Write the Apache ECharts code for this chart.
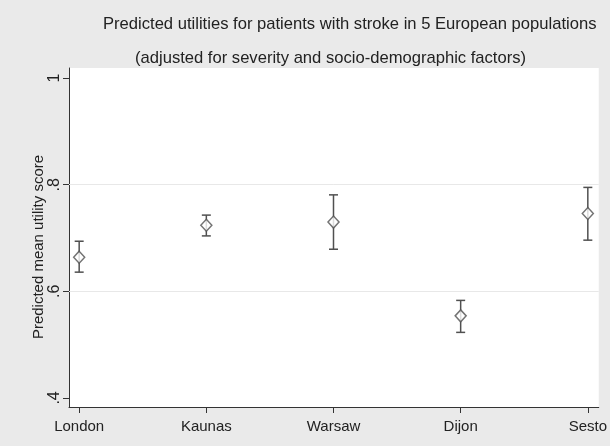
<!DOCTYPE html>
<html>
<head>
<meta charset="utf-8">
<script src="https://cdn.jsdelivr.net/npm/echarts@6/dist/echarts.min.js"></script>
<style>
  html, body { margin: 0; padding: 0; background: #eaeaea; }
  #chart { width: 610px; height: 446px; }
</style>
</head>
<body>
<div id="chart"></div>
<script>
// Study populations along the x axis
var cities = ['London', 'Kaunas', 'Warsaw', 'Dijon', 'Sesto'];
// Predicted mean utility with 95% confidence limits
var predicted = [0.664, 0.724, 0.730, 0.554, 0.746];
var lower = [0.636, 0.704, 0.679, 0.523, 0.696];
var upper = [0.694, 0.743, 0.781, 0.583, 0.795];
// Y-axis ticks and the lines drawn across the plot
var yTicks = [0.4, 0.6, 0.8, 1];
var gridValues = [0.6, 0.8];

var positions = cities.map(function (c, i) { return i + 1; });
var pointData = predicted.map(function (v, i) { return [positions[i], v]; });
var barData = predicted.map(function (v, i) { return [positions[i], lower[i], upper[i]]; });

var FONT = '"Liberation Sans", Arial, Helvetica, sans-serif';
var INK = '#222';
var MARK = '#505050';

function fmtTick(v) {
  var s = String(Math.round(v * 10) / 10);
  return s.replace(/^0\./, '.');
}

var chart = echarts.init(document.getElementById('chart'), null, { renderer: 'canvas' });

chart.setOption({
  backgroundColor: '#eaeaea',
  animation: false,
  graphic: [
    {
      type: 'text', left: 103, top: 16,
      style: {
        text: 'Predicted utilities for patients with stroke in 5 European populations',
        font: '16.6px ' + FONT, fill: INK
      }
    },
    {
      type: 'text', left: 135, top: 50,
      style: {
        text: '(adjusted for severity and socio-demographic factors)',
        font: '16.6px ' + FONT, fill: INK
      }
    },
    {
      // y-axis title, rotated to read upwards
      type: 'text', x: 39, y: 247, rotation: Math.PI / 2,
      style: {
        text: 'Predicted mean utility score',
        font: '15px ' + FONT, fill: INK,
        align: 'center', verticalAlign: 'middle'
      }
    }
  ],
  grid: {
    left: 69, right: 10, top: 68, bottom: 39,
    show: true, backgroundColor: '#ffffff', borderWidth: 0
  },
  xAxis: {
    type: 'value',
    min: 0.92, max: 5.086,
    axisLine: { show: true, onZero: false, lineStyle: { color: '#333', width: 1 } },
    axisTick: { show: true, length: 6, customValues: positions, lineStyle: { color: '#333' } },
    axisLabel: {
      customValues: positions,
      margin: 12,
      fontFamily: FONT, fontSize: 15, color: INK,
      formatter: function (v) { return cities[Math.round(v) - 1]; }
    },
    splitLine: { show: false }
  },
  yAxis: {
    type: 'value',
    min: 0.383, max: 1.019,
    axisLine: { show: true, onZero: false, lineStyle: { color: '#333', width: 1 } },
    axisTick: { show: true, length: 6, customValues: yTicks, lineStyle: { color: '#333' } },
    axisLabel: {
      customValues: yTicks,
      rotate: 90,
      margin: 6,
      fontFamily: FONT, fontSize: 16, color: INK,
      formatter: fmtTick
    },
    splitLine: { show: false }
  },
  series: [
    {
      // horizontal guide lines at the inner ticks
      type: 'line',
      data: [],
      silent: true,
      markLine: {
        silent: true,
        symbol: 'none',
        label: { show: false },
        lineStyle: { color: '#e8e8e8', width: 1, type: 'solid' },
        data: gridValues.map(function (v) { return { yAxis: v }; })
      }
    },
    {
      // confidence interval whiskers with caps
      type: 'custom',
      data: barData,
      z: 3,
      renderItem: function (params, api) {
        var x = api.value(0);
        var lo = api.coord([x, api.value(1)]);
        var hi = api.coord([x, api.value(2)]);
        var half = 4.5;
        var style = { stroke: MARK, lineWidth: 1.5 };
        return {
          type: 'group',
          children: [
            { type: 'line', shape: { x1: lo[0], y1: lo[1], x2: hi[0], y2: hi[1] }, style: style },
            { type: 'line', shape: { x1: hi[0] - half, y1: hi[1], x2: hi[0] + half, y2: hi[1] }, style: style },
            { type: 'line', shape: { x1: lo[0] - half, y1: lo[1], x2: lo[0] + half, y2: lo[1] }, style: style }
          ]
        };
      }
    },
    {
      // predicted means as hollow diamonds
      type: 'scatter',
      data: pointData,
      z: 4,
      symbol: 'diamond',
      symbolSize: [11, 12],
      itemStyle: { color: '#ffffff', borderColor: MARK, borderWidth: 1.5 }
    }
  ]
});
</script>
</body>
</html>
